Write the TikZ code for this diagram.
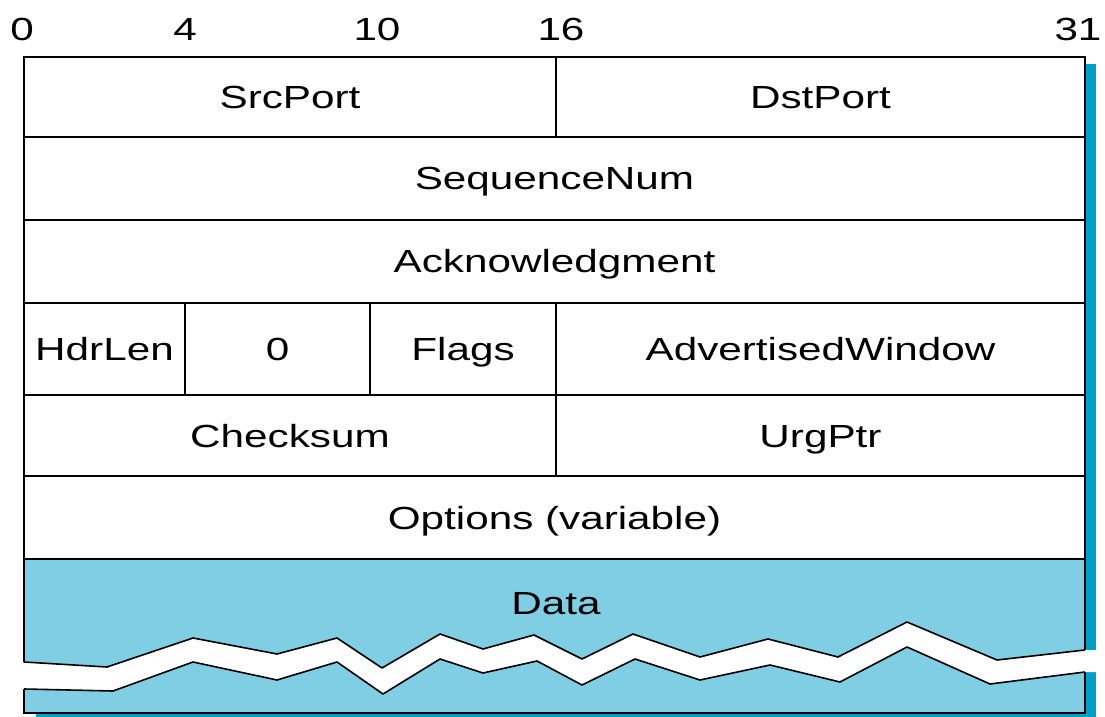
\documentclass[tikz,border=0pt]{standalone}
\usepackage{fontspec}
\setmainfont{Liberation Sans}[FakeStretch=1.32]
\usepackage{tikz}
\definecolor{DataBlue}{HTML}{7FCEE3}
\definecolor{ShadeBlue}{HTML}{00A0C6}

\begin{document}
\begin{tikzpicture}[
            x=0.5pt, y=-0.5pt,
            font=\fontsize{16}{19}\selectfont,
            every node/.append style={text height=11.5pt, text depth=0pt},
            field/.style={draw=black, line width=1pt, fill=white},
            datafield/.style={draw=black, line width=1pt, fill=DataBlue},
            bitnum/.style={inner sep=0pt},
            cutline/.style={draw=black, line width=0.8pt, line join=round},
        ]
        \useasboundingbox (0,0) rectangle (1105,717);
        \fill[ShadeBlue] (36,64) rectangle (1096,720);

        \node[bitnum] (b0) at (22,29) {0};
        \node[bitnum] (b4) at (185,29) {4};
        \node[bitnum] (b10) at (377,29) {10};
        \node[bitnum] (b16) at (561,29) {16};
        \node[bitnum] (b31) at (1078,29) {31};

        \draw[field] (24,57) rectangle node (src) {SrcPort} (556,137);
        \draw[field] (556,57) rectangle node (dst) {DstPort} (1085,137);
        \draw[field] (24,137) rectangle node (seq) {SequenceNum} (1085,220);
        \draw[field] (24,220) rectangle node (ack) {Acknowledgment} (1085,303);
        \draw[field] (24,303) rectangle node (hdr) {HdrLen} (185,395);
        \draw[field] (185,303) rectangle node (zero) {0} (370,395);
        \draw[field] (370,303) rectangle node (flags) {Flags} (556,395);
        \draw[field] (556,303) rectangle node (win) {AdvertisedWindow} (1085,395);
        \draw[field] (24,395) rectangle node (csum) {Checksum} (556,476);
        \draw[field] (556,395) rectangle node (urg) {UrgPtr} (1085,476);
        \draw[field] (24,476) rectangle node (opts) {Options (variable)} (1085,559);
        \draw[datafield] (24,559) rectangle (1085,713);
        \node (data) at (556,603) {Data};

        \fill[white] (18,662) -- (107,667) -- (193,638) -- (277,654) -- (337,638) -- (382,668)
            -- (440,634) -- (483,649) -- (534,635) -- (582,659) -- (633,634) -- (700,657)
            -- (768,639) -- (838,657) -- (907,622) -- (997,660) -- (1085,650) -- (1100,650)
            -- (1100,672) -- (1085,672) -- (990,684) -- (907,647) -- (840,682) -- (770,665)
            -- (700,680) -- (635,659) -- (582,685) -- (537,661) -- (483,673) -- (440,659)
            -- (383,694) -- (337,662) -- (277,680) -- (193,662) -- (113,691) -- (18,689) -- cycle;
        \draw[cutline] (24,662) -- (107,667) -- (193,638) -- (277,654) -- (337,638) -- (382,668)
            -- (440,634) -- (483,649) -- (534,635) -- (582,659) -- (633,634) -- (700,657)
            -- (768,639) -- (838,657) -- (907,622) -- (997,660) -- (1085,650);
        \draw[cutline] (24,689) -- (113,691) -- (193,662) -- (277,680) -- (337,662) -- (383,694)
            -- (440,659) -- (483,673) -- (537,661) -- (582,685) -- (635,659) -- (700,680)
            -- (770,665) -- (840,682) -- (907,647) -- (990,684) -- (1085,672);
    \end{tikzpicture}
\end{document}
